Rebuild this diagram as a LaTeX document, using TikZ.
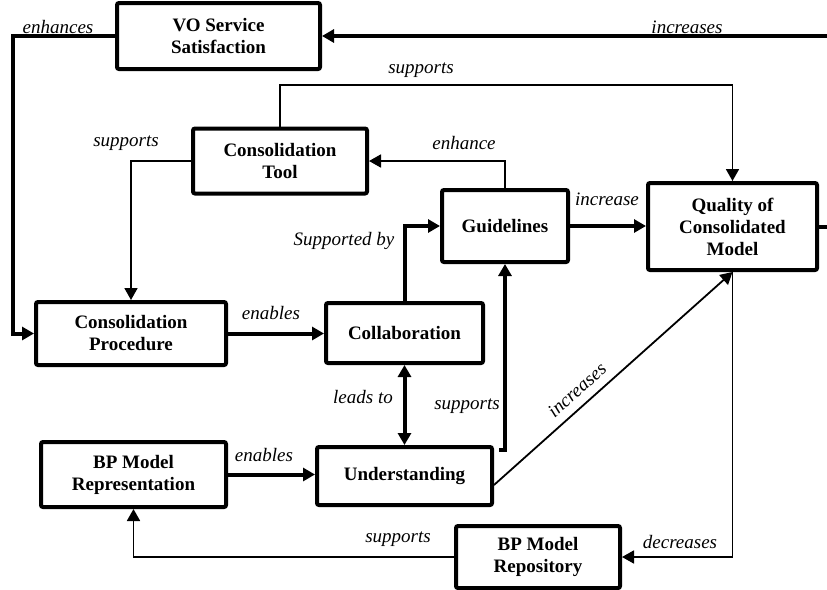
\documentclass[tikz,border=0pt]{standalone}
\usepackage{fontspec}
\setmainfont{Liberation Serif}
\usetikzlibrary{arrows.meta}

\begin{document}
\begin{tikzpicture}[x=0.5pt,y=-0.5pt,>={Triangle[length=6pt,width=6.5pt]},
  factor/.style={draw,line width=2pt,rounded corners=1pt,align=center,inner sep=1pt,
    font=\fontsize{9.5}{11}\selectfont\bfseries},
  lbl/.style={font=\fontsize{9.5}{11}\selectfont\itshape,inner sep=0pt},
  strong/.style={line width=2pt,->},
  weak/.style={line width=0.9pt,->}]
\useasboundingbox (0,0) rectangle (827,590);
\clip (0,0) rectangle (827,590);
% factors
\node[factor,minimum width=101.5pt,minimum height=33pt]   (vo)      at (218.5,36)  {VO Service\\Satisfaction};
\node[factor,minimum width=87pt,minimum height=32.5pt]    (tool)    at (280,161)   {Consolidation\\Tool};
\node[factor,minimum width=95pt,minimum height=31.5pt]    (proc)    at (131,333.5) {Consolidation\\Procedure};
\node[factor,minimum width=78.5pt,minimum height=30pt]    (collab)  at (404.5,333) {Collaboration};
\node[factor,minimum width=63pt,minimum height=36pt]      (guide)   at (505,226)   {Guidelines};
\node[factor,minimum width=84.5pt,minimum height=43.5pt]  (quality) at (732.5,226.5) {Quality of\\Consolidated\\Model};
\node[factor,minimum width=92.5pt,minimum height=32.5pt]  (rep)     at (133.5,474.5) {BP Model\\Representation};
\node[factor,minimum width=87.5pt,minimum height=29pt]    (under)   at (404.5,476) {Understanding};
\node[factor,minimum width=82pt,minimum height=31pt]      (repo)    at (538,557)   {BP Model\\Repository};
% labels
\node[lbl] (lenh)   at (58,27)   {enhances};
\node[lbl] (lincr)  at (687,27)  {increases};
\node[lbl] (lsupq)  at (421,70)  {supports};
\node[lbl] (lsupp)  at (126,143) {supports};
\node[lbl] (lenhc)  at (464,143) {enhance};
\node[lbl] (linc)   at (607,199) {increase};
\node[lbl] (lsupby) at (344,241) {Supported by};
\node[lbl] (lenp)   at (271,313) {enables};
\node[lbl] (llead)  at (363,397) {leads to};
\node[lbl] (lsupg)  at (467,406) {supports};
\node[lbl,rotate=42] (lincq) at (577,390) {increases};
\node[lbl] (ldecr)  at (680,542) {decreases};
\node[lbl] (lsupr)  at (398,539) {supports};
\node[lbl] (lenu)   at (264,455) {enables};
% connectors
\draw[strong] (vo.west) -- ++(-102,0) |- (proc.west);
\draw[strong] (quality.east) -- ++(30,0) |- (vo.east);
\draw[weak] (tool.north) -- ++(0,-41.5) -| (quality.north);
\draw[weak] (tool.west) -| (proc.north);
\draw[weak] (guide.north) |- (tool.east);
\draw[strong] (guide.east) -- (guide.east -| quality.west);
\draw[strong] (collab.north) |- (guide.west);
\draw[strong] (proc.east) -- (proc.east -| collab.west);
\draw[strong,<->] (collab.south) -- (under.north);
\draw[strong,<-] (guide.south) |- ([shift={(5,5)}]under.north east);
\draw[weak] ([shift={(0,9)}]under.east) -- (quality.south);
\draw[weak] (quality.south) |- (repo.east);
\draw[weak] (repo.west) -| (rep.south);
\draw[strong] (rep.east) -- (rep.east -| under.west);
\end{tikzpicture}
\end{document}
